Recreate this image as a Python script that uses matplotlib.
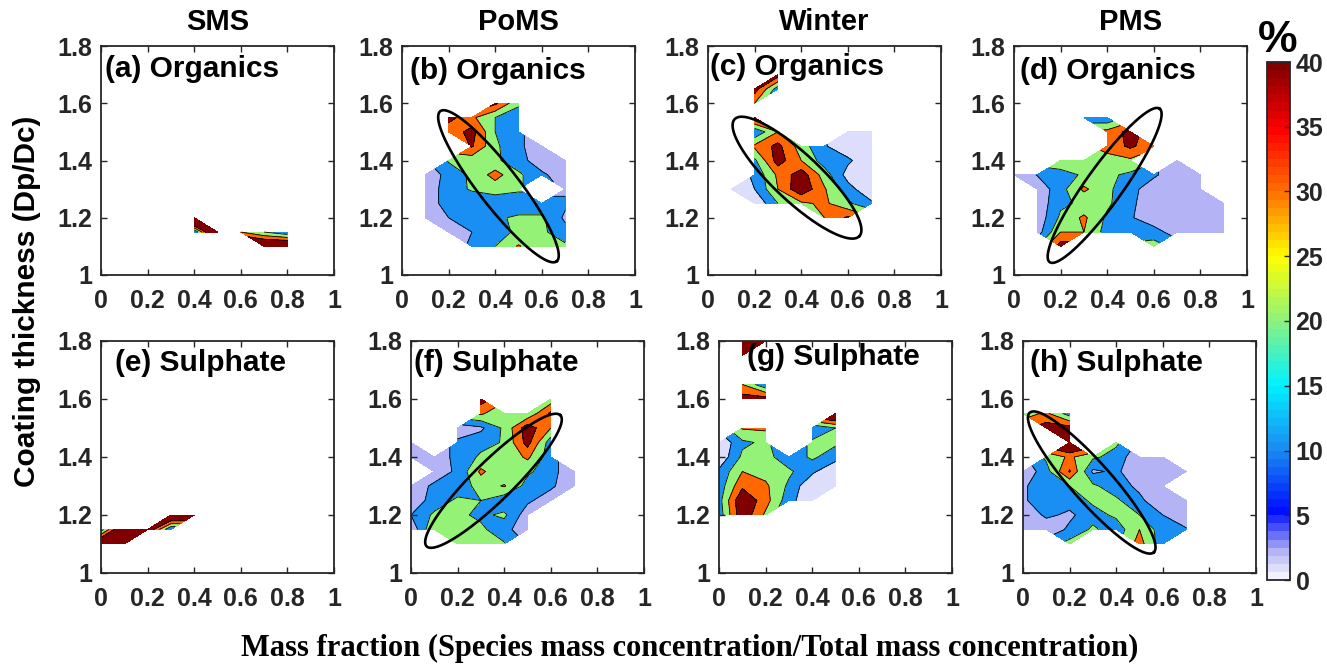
import numpy as np
import matplotlib
matplotlib.use("Agg")
import matplotlib.pyplot as plt
from matplotlib.colors import LinearSegmentedColormap, Normalize
from matplotlib.cm import ScalarMappable

plt.rcParams['font.family'] = ['Liberation Sans', 'DejaVu Sans']
plt.rcParams['font.weight'] = 'bold'

N = np.nan
E = [N] * 11

# grid: mass fraction (columns) and coating thickness (rows, from 1.0 up to 1.8)
mass_fraction = [0.0, 0.1, 0.2, 0.3, 0.4, 0.5, 0.6, 0.7, 0.8, 0.9, 1.0]
coating = [1.0, 1.05, 1.1, 1.15, 1.2, 1.25, 1.3, 1.35, 1.4, 1.45, 1.5, 1.55, 1.6, 1.65, 1.7, 1.75, 1.8]

org_sms = [E, E,
    [N, N, N, N, N, N, N, 60, 60, N, N],
    [N, N, N, N, 10, 70, 30, 20, 12, N, N],
    [N, N, N, N, 80, N, N, N, N, N, N],
    E, E, E, E, E, E, E, E, E, E, E, E]

org_poms = [E, E,
    [N, N, N, 12, 20, 31, 22, 22, N, N, N],
    [N, N, 2, 10, 16, 22, 22, 14, N, N, N],
    [N, 2, 10, 13, 18, 22, 22, 8, N, N, N],
    [N, 2, 16, 14, 14, 12, 12, 12, N, N, N],
    [N, 2, 16, 21, 24, 22, N, 8, N, N, N],
    [N, 2, 14, 22, 34, 22, 12, 4, N, N, N],
    [N, N, 21, 24, 22, 14, 4, 2, N, N, N],
    [N, N, N, 41, 22, 12, 4, N, N, N, N],
    [N, N, 33, 44, 20, 12, N, N, N, N, N],
    [N, N, 44, 32, 20, 14, N, N, N, N, N],
    [N, N, N, N, 42, 22, N, N, N, N, N],
    E, E, E, E]

org_winter = [E, E, E, E,
    [N, N, N, N, N, 30, 42, N, N, N, N],
    [N, N, 1, 20, 28, 32, 22, 12, N, N, N],
    [N, 1, 10, 30, 48, 31, 14, 2, N, N, N],
    [N, N, 12, 32, 46, 25, 6, 2, N, N, N],
    [N, N, 18, 45, 30, 15, 12, 2, N, N, N],
    [N, N, 32, 43, 25, 11, 3, 2, N, N, N],
    [N, N, 12, 30, N, N, 2, 2, N, N, N],
    [N, N, 45, N, N, N, N, N, N, N, N],
    [N, N, 30, N, N, N, N, N, N, N, N],
    [N, N, 45, 15, N, N, N, N, N, N, N],
    [N, N, N, 45, N, N, N, N, N, N, N],
    E, E]

org_pms = [E, E,
    [N, N, 45, N, N, N, 25, N, N, N, N],
    [N, 5, 30, 30, 16, 12, 14, 5, 2, 2, N],
    [N, 3, 22, 32, 18, 11, 4, 2, 2, 2, N],
    [N, 3, 18, 22, 22, 12, 4, 2, 2, 2, N],
    [N, 3, 16, 32, 22, 14, 3, 2, 2, N, N],
    [2, 10.5, 14, 22, 22, 18, 12, 2, 2, N, N],
    [N, N, 30, 20, 26, 28, N, 2, N, N, N],
    [N, N, N, N, 34, 42, 33, N, N, N, N],
    [N, N, N, N, 33, 44, N, N, N, N, N],
    [N, N, N, 12, 12, N, N, N, N, N, N],
    E, E, E, E, E]

sul_sms = [E, E,
    [60, 60, N, N, N, N, N, N, N, N, N],
    [15, 60, 50, 10, N, N, N, N, N, N, N],
    [N, N, N, 60, 60, N, N, N, N, N, N],
    E, E, E, E, E, E, E, E, E, E, E, E]

sul_poms = [E, E,
    [N, N, 30, 28, 21, N, N, N, N, N, N],
    [2, 30, 22, 22, 14, 2, N, N, N, N, N],
    [10, 22, 22, 18, 22, 4, N, N, N, N, N],
    [4, 14, 22, 20, 13, 12, 4, N, N, N, N],
    [4, 12, 14, 24, 31, 16, 12, 2, N, N, N],
    [N, 4, 12, 32, 22, 22, 14, 2, N, N, N],
    [3, 6, 12, 22, 22, 32, 14, N, N, N, N],
    [3, N, 12, 16, 21, 44, 14, N, N, N, N],
    [N, N, 4, 8, 22, 46, 30, N, N, N, N],
    [N, N, N, 32, 20, 22, 42, N, N, N, N],
    [N, N, N, 45, N, N, 24, N, N, N, N],
    E, E, E, E]

sul_winter = [E, E, E, E,
    [14, 48, 28, N, N, N, N, N, N, N, N],
    [16, 50, 34, 14, 1, N, N, N, N, N, N],
    [14, 38, 32, 18, 1, 1, N, N, N, N, N],
    [12, 30, 26, 22, 12, 1, N, N, N, N, N],
    [2, 22, 24, 13, 22, 14, N, N, N, N, N],
    [1, 18, 22, N, 22, 22, N, N, N, N, N],
    [N, 31, 32, N, 12, 20, N, N, N, N, N],
    [N, N, N, N, N, 60, N, N, N, N, N],
    [N, 45, 45, N, N, N, N, N, N, N, N],
    [N, 30, 12, N, N, N, N, N, N, N, N],
    E,
    [N, 45, N, N, N, N, N, N, N, N, N],
    [N, 45, 45, N, N, N, N, N, N, N, N]]

sul_pms = [E, E,
    [N, N, 24, N, N, 34, 14, N, N, N, N],
    [2, 3, 12, 22, 14, 30, 14, 11, N, N, N],
    [2, 12, 8, 16, 22, 20, 10, 3, N, N, N],
    [8, 18, 14, 22, 22, 12, 3, 2, N, N, N],
    [8, 18, 20, 22, 14, 8, 2, N, N, N, N],
    [2, 16, 41, 8, 12, 2, 2, 2, N, N, N],
    [N, 22, 32, 22, 16, 2, 2, N, N, N, N],
    [N, N, 60, N, 22, N, N, N, N, N, N],
    [N, 45, 44, N, N, N, N, N, N, N, N],
    [25, 32, 15, N, N, N, N, N, N, N, N],
    E, E, E, E, E]

seasons = ['SMS', 'PoMS', 'Winter', 'PMS']
panel_labels = ['(a) Organics', '(b) Organics', '(c) Organics', '(d) Organics',
                '(e) Sulphate', '(f) Sulphate', '(g) Sulphate', '(h) Sulphate']
panel_data = [org_sms, org_poms, org_winter, org_pms,
              sul_sms, sul_poms, sul_winter, sul_pms]

# ellipses: centre, half major-axis vector, half minor-axis vector (data units)
ellipses = {1: ((0.414, 1.31), (0.25, -0.262), (0.067, 0.044)),
            2: ((0.382, 1.34), (0.268, -0.204), (0.068, 0.061)),
            3: ((0.389, 1.313), (0.236, 0.268), (0.064, -0.038)),
            5: ((0.354, 1.318), (0.287, 0.226), (0.06, -0.049)),
            7: ((0.295, 1.312), (0.266, -0.241), (0.065, 0.045))}

xticks = [0, 0.2, 0.4, 0.6, 0.8, 1]
xtick_labels = ['0', '0.2', '0.4', '0.6', '0.8', '1']
yticks = [1, 1.2, 1.4, 1.6, 1.8]
ytick_labels = ['1', '1.2', '1.4', '1.6', '1.8']
cbar_ticks = [0, 5, 10, 15, 20, 25, 30, 35, 40]

# colormap (value -> colour), 64 discrete steps like the original
cmap_vals = [0, 2, 5, 10, 15, 20, 25, 30, 35, 40]
cmap_cols = [(0.95, 0.95, 1.0), (0.69, 0.69, 0.96), (0.0, 0.05, 1.0),
             (0.10, 0.55, 0.95), (0.0, 0.95, 1.0), (0.55, 0.95, 0.50),
             (1.0, 1.0, 0.0), (1.0, 0.45, 0.0), (1.0, 0.0, 0.0), (0.5, 0.0, 0.0)]
cmap = LinearSegmentedColormap.from_list(
    'pct', list(zip([v / 40 for v in cmap_vals], cmap_cols)), N=64)
norm = Normalize(0, 40)

W, H = 1327, 664
fig = plt.figure(figsize=(W / 100, H / 100), dpi=100)

lefts = [[101, 402, 708, 1014], [101, 411, 719, 1023]]
tops = [46, 341]
bottoms = [275, 573]
aw = 233
label_dx = [0.017, 0.034, 0.01, 0.026, 0.06, 0.012, 0.12, 0.03]
label_y = [0.90, 0.89, 0.91, 0.89, 0.905, 0.905, 0.93, 0.905]

X, Y = np.meshgrid(mass_fraction, coating)
dark = (0.15, 0.15, 0.15)

for i, data in enumerate(panel_data):
    r, c = divmod(i, 4)
    l = lefts[r][c]
    ax = fig.add_axes([l / W, 1 - bottoms[r] / H, aw / W, (bottoms[r] - tops[r]) / H])
    Z = np.ma.masked_invalid(np.array(data, dtype=float))
    lo = min(float(Z.min()), 10.0)
    top = max(float(Z.max()), 40.0) + 1
    levels = sorted(set([lo, 10, 20, 30, 40])) + [top]
    colors = [cmap(norm(v)) for v in levels[:-1]]
    ax.contourf(X, Y, Z, levels=levels, colors=colors)
    ax.contour(X, Y, Z, levels=[10, 20, 30, 40], colors='k', linewidths=0.6)
    if i in ellipses:
        (cx, cy), (mx, my), (nx, ny) = ellipses[i]
        t = np.linspace(0, 2 * np.pi, 300)
        ax.plot(cx + mx * np.cos(t) + nx * np.sin(t),
                cy + my * np.cos(t) + ny * np.sin(t), color='k', lw=1.9)
    ax.set_xlim(0, 1)
    ax.set_ylim(1, 1.8)
    ax.set_xticks(xticks)
    ax.set_xticklabels(xtick_labels)
    ax.set_yticks(yticks)
    ax.set_yticklabels(ytick_labels)
    ax.tick_params(direction='in', top=True, right=True, length=4, width=1,
                   labelsize=18, colors=dark)
    ax.tick_params(axis='x', pad=10)
    ax.tick_params(axis='y', pad=6)
    for s in ax.spines.values():
        s.set_color(dark)
        s.set_linewidth(1.3)
    ax.text(label_dx[i], label_y[i], panel_labels[i], transform=ax.transAxes,
            ha='left', va='center', fontsize=21.5, fontweight='bold', color='k')
    if r == 0:
        fig.text((l + aw / 2) / W, 1 - 22 / H, seasons[c], ha='center', va='center',
                 fontsize=21, fontweight='bold')

cax = fig.add_axes([1267 / W, 1 - 580 / H, 23 / W, (580 - 62) / H])
cb = fig.colorbar(ScalarMappable(norm=norm, cmap=cmap), cax=cax, ticks=cbar_ticks)
cb.ax.tick_params(direction='in', length=4, width=1, labelsize=18, colors=dark, pad=4)
cb.outline.set_linewidth(1.3)
cb.outline.set_edgecolor(dark)
fig.text(1278 / W, 1 - 40 / H, '%', ha='center', va='center', fontsize=32,
         fontweight='bold')

fig.text(27 / W, 1 - 301 / H, 'Coating thickness (Dp/Dc)', rotation=90,
         ha='center', va='center', fontsize=21.5, fontweight='bold')
fig.text(690 / W, 1 - 648 / H,
         'Mass fraction (Species mass concentration/Total mass concentration)',
         ha='center', va='center', fontsize=22, fontweight='bold',
         family=['Liberation Serif', 'DejaVu Serif'])

fig.savefig('out.png', dpi=100)
